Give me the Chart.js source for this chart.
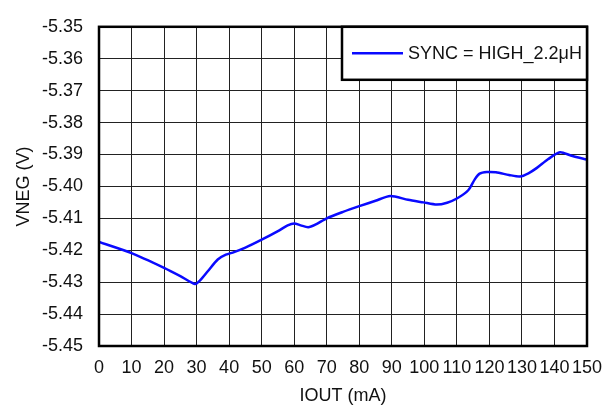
<!DOCTYPE html>
<html>
<head>
<meta charset="utf-8">
<script src="https://cdn.jsdelivr.net/npm/chart.js@4/dist/chart.umd.min.js"></script>
<style>
  html, body { margin: 0; padding: 0; background: #fff; }
  canvas { display: block; }
</style>
</head>
<body>
<canvas id="c" width="614" height="410"></canvas>
<script>
/* VNEG vs IOUT, one series, TI-style boxed plot. */
const seriesLabel = "SYNC = HIGH_2.2\u03BCH";
const iout = [0, 10, 20, 25, 29.5, 31, 33.5, 36.5, 39, 41.5, 45, 50, 55, 58, 60, 62, 64.3, 66.5, 70, 75, 80, 85, 89.5,
  95, 99.7, 103.8, 107, 110, 113.5, 115.5, 117, 119.2, 122, 126, 129.4, 132, 134.6, 138, 141.7, 145, 150];
const vneg = [-5.4174, -5.4209, -5.4255, -5.4281, -5.4306, -5.4295, -5.4265, -5.4229, -5.4214, -5.4206, -5.4192,
  -5.4167, -5.4140, -5.4122, -5.4116, -5.4122, -5.4128, -5.4120, -5.4100, -5.4080, -5.4062, -5.4045, -5.4030,
  -5.4042, -5.4050, -5.4057, -5.4051, -5.4038, -5.4012, -5.3978, -5.3960, -5.3955, -5.3956, -5.3964, -5.3969,
  -5.3959, -5.3942, -5.3915, -5.3893, -5.3903, -5.3916];
const xRange = [0, 150, 10];
const yRange = [-5.45, -5.35, 0.01];

const FONT = "'Liberation Sans', Arial, sans-serif";
const INK = "#111";

// plot frame + boxed legend in the top-right corner
const frame = {
  id: "frame",
  afterDatasetsDraw(chart) {
    const { ctx, chartArea: a } = chart;
    const ds = chart.data.datasets[0];
    ctx.save();
    ctx.lineWidth = 2.5;
    ctx.strokeStyle = "#000";
    ctx.strokeRect(a.left, a.top, a.right - a.left, a.bottom - a.top);
    const bx = 342, by = a.top, bw = a.right - bx, bh = 53;
    ctx.fillStyle = "#fff";
    ctx.fillRect(bx, by, bw, bh);
    ctx.strokeRect(bx, by, bw, bh);
    const my = by + bh / 2;
    ctx.strokeStyle = ds.borderColor;
    ctx.lineWidth = 2.5;
    ctx.beginPath(); ctx.moveTo(352, my); ctx.lineTo(403, my); ctx.stroke();
    ctx.fillStyle = INK;
    ctx.font = "18px " + FONT;
    ctx.textBaseline = "middle";
    ctx.textAlign = "left";
    ctx.fillText(ds.label, 408, my + 1);
    ctx.restore();
  }
};

new Chart(document.getElementById("c"), {
  type: "line",
  data: {
    datasets: [{
      label: seriesLabel,
      data: iout.map((x, i) => ({ x, y: vneg[i] })),
      borderColor: "#0a0aff",
      borderWidth: 2.5,
      pointRadius: 0,
      tension: 0.25,
      fill: false
    }]
  },
  options: {
    responsive: false,
    animation: false,
    layout: { padding: { top: 16, right: 27, left: 0, bottom: 0 } },
    plugins: { legend: { display: false }, tooltip: { enabled: false } },
    scales: {
      x: {
        type: "linear", min: xRange[0], max: xRange[1],
        afterFit: (s) => { s.height = 64; },
        grid: { color: "#222", lineWidth: 1, drawTicks: false },
        border: { display: false },
        ticks: { stepSize: xRange[2], autoSkip: false, maxRotation: 0, minRotation: 0, padding: 11, color: INK, font: { family: FONT, size: 18 } },
        title: { display: true, text: "IOUT (mA)", color: INK, padding: { top: 0, bottom: 3 }, font: { family: FONT, size: 18 } }
      },
      y: {
        min: yRange[0], max: yRange[1],
        afterFit: (s) => { s.width = 99; },
        grid: { color: "#222", lineWidth: 1, drawTicks: false },
        border: { display: false },
        ticks: { stepSize: yRange[2], padding: 16, color: INK, font: { family: FONT, size: 18 }, callback: (v) => v.toFixed(2) },
        title: { display: true, text: "VNEG (V)", color: INK, padding: { top: 13, bottom: 0 }, font: { family: FONT, size: 18 } }
      }
    }
  },
  plugins: [frame]
});
</script>
</body>
</html>
